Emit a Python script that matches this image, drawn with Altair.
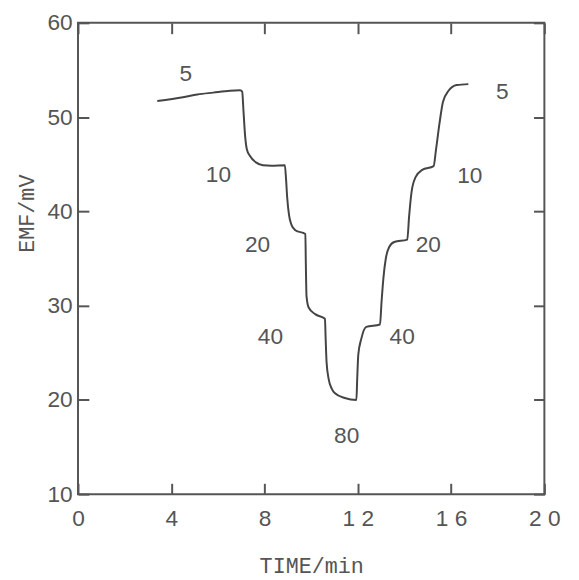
import altair as alt
import pandas as pd

# Curve: EMF (mV) vs time (min)
time_min = [3.40, 4.50, 5.12, 5.80, 6.52, 6.95, 7.04, 7.10, 7.16, 7.24, 7.37, 7.63, 7.93, 8.30, 8.87,
            8.92, 8.97, 9.05, 9.15, 9.32, 9.75, 9.77, 9.80, 9.89, 10.17, 10.59, 10.62, 10.66, 10.75,
            10.88, 11.02, 11.44, 11.94, 11.97, 12.02, 12.15, 12.36, 12.95, 13.02, 13.10, 13.20, 13.34,
            13.56, 14.12, 14.20, 14.30, 14.47, 14.76, 15.25, 15.35, 15.50, 15.65, 15.89, 16.24, 16.74]
emf_mv = [51.7, 52.1, 52.4, 52.6, 52.8, 52.85, 52.7, 50.5, 48.2, 46.6, 45.9, 45.2, 44.9, 44.85, 44.9,
          43.5, 41.5, 39.6, 38.6, 38.0, 37.6, 34.5, 31.0, 29.8, 29.1, 28.6, 26.5, 24.0, 22.2,
          21.2, 20.7, 20.2, 20.0, 22.0, 24.8, 26.5, 27.75, 28.0, 30.5, 33.0, 35.0, 36.2,
          36.75, 37.0, 39.5, 42.0, 43.6, 44.4, 44.8, 46.5, 49.3, 51.6, 52.8, 53.4, 53.5]

# Annotations
label_text = ["5", "10", "20", "40", "80", "40", "20", "10", "5"]
label_time = [4.62, 6.02, 7.70, 8.25, 11.52, 13.90, 15.02, 16.80, 18.20]
label_emf = [54.6, 43.9, 36.4, 26.7, 16.2, 26.7, 36.4, 43.7, 52.7]

x_ticks = [0, 4, 8, 12, 16, 20]
y_ticks = [10, 20, 30, 40, 50, 60]

W, H = 473, 478
GREY = "#555555"

curve = pd.DataFrame({"t": time_min, "v": emf_mv})
labels = pd.DataFrame({"t": label_time, "v": label_emf, "txt": label_text})

xs = alt.Scale(domain=[0, 20], nice=False, zero=False)
ys = alt.Scale(domain=[10, 60], nice=False, zero=False)

x_label_expr = "datum.value >= 10 ? slice(datum.label, 0, 1) + ' ' + slice(datum.label, 1) : datum.label"

line = alt.Chart(curve).mark_line(color="#444444", strokeWidth=2, interpolate="monotone").encode(
    x=alt.X("t:Q", scale=xs, axis=alt.Axis(
        orient="bottom", values=x_ticks, ticks=False, tickSize=0, domain=False, grid=False,
        labelFont="Liberation Sans", labelFontSize=23, labelColor=GREY, labelPadding=14,
        labelFlush=False, labelExpr=x_label_expr,
        title="TIME/min", titleFont="Liberation Mono", titleFontSize=22, titleFontWeight="normal",
        titleColor=GREY, titleY=79, titleBaseline="alphabetic")),
    y=alt.Y("v:Q", scale=ys, axis=alt.Axis(
        orient="left", values=y_ticks, ticks=False, tickSize=0, domain=False, grid=False,
        labelFont="Liberation Sans", labelFontSize=23, labelColor=GREY, labelPadding=6,
        title="EMF/mV", titleFont="Liberation Mono", titleFontSize=22, titleFontWeight="normal",
        titleColor=GREY, titleX=-52, titleY=193, titleAngle=270, titleAlign="center",
        titleBaseline="middle")),
)

text = alt.Chart(labels).mark_text(font="Liberation Sans", fontSize=23, color=GREY).encode(
    x=alt.X("t:Q", scale=xs, axis=alt.Axis(
        orient="top", offset=-H, values=x_ticks, labels=False, domain=False, grid=False,
        ticks=True, tickSize=11, tickWidth=2, tickColor=GREY, title=None)),
    y=alt.Y("v:Q", scale=ys, axis=alt.Axis(
        orient="right", offset=-W, values=y_ticks, labels=False, domain=False, grid=False,
        ticks=True, tickSize=11, tickWidth=2, tickColor=GREY, title=None)),
    text="txt:N",
)

ghost = alt.Chart(curve).mark_line(strokeOpacity=0).encode(
    x=alt.X("t:Q", scale=xs, axis=alt.Axis(
        orient="bottom", offset=-H, values=x_ticks, labels=False, domain=False, grid=False,
        ticks=True, tickSize=11, tickWidth=2, tickColor=GREY, title=None)),
    y=alt.Y("v:Q", scale=ys, axis=alt.Axis(
        orient="left", offset=-W, values=y_ticks, labels=False, domain=False, grid=False,
        ticks=True, tickSize=11, tickWidth=2, tickColor=GREY, title=None)),
)

chart = alt.layer(line, text, ghost).resolve_axis(
    x="independent", y="independent"
).properties(
    width=W, height=H, autosize="none",
    padding={"left": 71, "top": 11, "right": 27, "bottom": 83},
    background="white",
).configure_view(stroke=GREY, strokeWidth=2)

chart.save("out.html", embed_options={"renderer": "svg", "actions": False})
